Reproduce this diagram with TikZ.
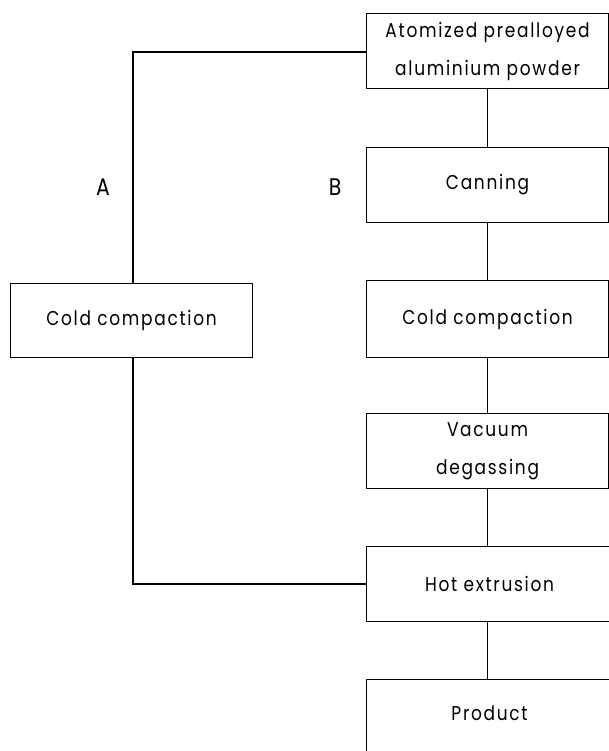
\documentclass[tikz,border=0pt]{standalone}
\usepackage{fontspec}
\setmainfont{Poppins}[LetterSpace=8.5, FakeStretch=0.85]
\begin{document}
\begin{tikzpicture}[x=1pt,y=-1pt,
  box/.style={draw, line width=1.1pt, inner sep=0pt, anchor=north west, align=center,
    minimum width=242pt, minimum height=75pt,
    font=\fontsize{20}{38}\selectfont},
  wide/.style={minimum width=246pt},
  conn/.style={line width=1.1pt},
  lbl/.style={font=\fontsize{24}{28}\selectfont, inner sep=0pt}]
\useasboundingbox (0,0) rectangle (609,751);
\node[box] (top) at (366,13) {Atomized prealloyed\\aluminium powder};
\node[box] (can) at (366,147) {Canning};
\node[box, minimum height=77pt] (coldR) at (366,280) {Cold compaction};
\node[box] (vac) at (366,413) {Vacuum\\degassing};
\node[box, wide] (hot) at (366,546) {Hot extrusion};
\node[box, wide, minimum height=90pt] (prod) at (366,679) {\raisebox{22pt}{Product}};
\node[box, minimum height=74pt] (coldL) at (10,283) {Cold compaction};
\node[lbl] (A) at (103,187) {A};
\node[lbl] (B) at (335,187) {B};
\coordinate (tl) at (133,52);
\coordinate (bl) at (133,584);
\draw[conn] (top.south -| can.north) -- (can.north);
\draw[conn] (can.south) -- (coldR.north);
\draw[conn] (coldR.south) -- (vac.north);
\draw[conn] (vac.south) -- (vac.south |- hot.north);
\draw[conn] (vac.south |- hot.south) -- (vac.south |- prod.north);
\draw[conn] (top.west |- tl) -- (tl) -- (tl |- coldL.north);
\draw[conn] (tl |- coldL.south) -- (bl) -- (bl -| hot.west);
\end{tikzpicture}
\end{document}
